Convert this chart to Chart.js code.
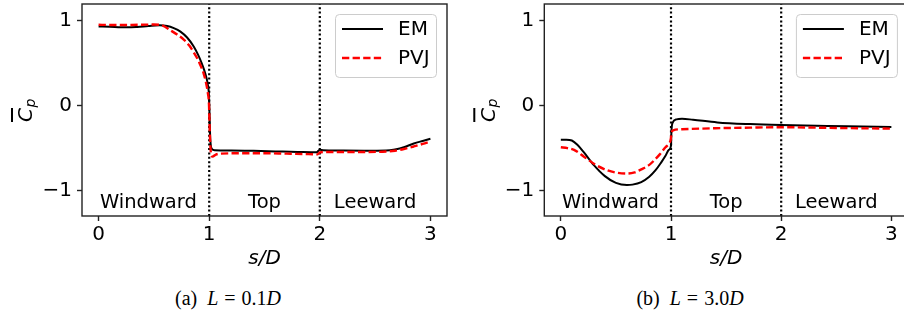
<!DOCTYPE html>
<html><head><meta charset="utf-8">
<script src="https://cdn.jsdelivr.net/npm/chart.js@4.4.1/dist/chart.umd.min.js"></script>
<style>
html,body{margin:0;padding:0;overflow:hidden;background:#fff;width:904px;height:322px;position:relative;}
canvas{position:absolute;top:0;}
#ca{left:0;}
#cb{left:452px;}
.cap{position:absolute;top:287px;font-family:'Liberation Serif','DejaVu Serif',serif;font-size:20px;white-space:nowrap;transform:translateX(-50%);color:#000;word-spacing:1px;}
</style></head><body>
<canvas id="ca" width="452" height="280"></canvas>
<canvas id="cb" width="460" height="280"></canvas>
<div class="cap" style="left:228px">(a)&ensp;<i>L</i> = 0.1<i>D</i></div>
<div class="cap" style="left:690px">(b)&ensp;<i>L</i> = 3.0<i>D</i></div>
<script>
// ---------- data ----------
const xTicks = [0, 1, 2, 3];
const yTicks = [-1, 0, 1];
const regionNames = ['Windward', 'Top', 'Leeward'];
const regionBounds = [1, 2];
const seriesNames = ['EM', 'PVJ'];

// (a) L = 0.1D
const emA_s  = [0, 0.1, 0.2, 0.26, 0.35, 0.45, 0.55, 0.62, 0.68, 0.74, 0.8, 0.86, 0.9, 0.93, 0.955, 0.975, 0.99, 0.998, 1.003, 1.01, 1.025, 1.05, 1.2, 1.4, 1.6, 1.8, 1.97, 2.0, 2.03, 2.2, 2.4, 2.6, 2.68, 2.76, 2.85, 2.93, 3.0];
const emA_cp = [0.935, 0.932, 0.926, 0.925, 0.93, 0.94, 0.948, 0.94, 0.915, 0.875, 0.805, 0.7, 0.6, 0.51, 0.42, 0.33, 0.23, 0.12, -0.1, -0.4, -0.51, -0.525, -0.528, -0.532, -0.538, -0.544, -0.548, -0.52, -0.524, -0.528, -0.53, -0.528, -0.515, -0.49, -0.445, -0.415, -0.39];
const pvjA_s  = [0, 0.1, 0.2, 0.3, 0.4, 0.5, 0.58, 0.65, 0.71, 0.77, 0.82, 0.86, 0.9, 0.92, 0.95, 0.97, 0.988, 0.998, 1.005, 1.015, 1.03, 1.06, 1.1, 1.3, 1.5, 1.7, 1.9, 1.98, 2.0, 2.05, 2.2, 2.4, 2.6, 2.68, 2.76, 2.85, 2.93, 3.0];
const pvjA_cp = [0.955, 0.953, 0.952, 0.953, 0.956, 0.958, 0.945, 0.89, 0.84, 0.78, 0.71, 0.63, 0.54, 0.48, 0.38, 0.28, 0.15, 0.02, -0.3, -0.55, -0.6, -0.575, -0.565, -0.56, -0.56, -0.565, -0.57, -0.573, -0.55, -0.545, -0.545, -0.545, -0.54, -0.53, -0.51, -0.48, -0.45, -0.42];

// (b) L = 3.0D
const emB_s  = [0, 0.05, 0.1, 0.15, 0.21, 0.3, 0.4, 0.5, 0.6, 0.65, 0.73, 0.8, 0.86, 0.91, 0.95, 0.98, 1.0, 1.004, 1.015, 1.05, 1.1, 1.2, 1.42, 1.72, 2.0, 2.32, 2.6, 3.0];
const emB_cp = [-0.40, -0.40, -0.41, -0.46, -0.55, -0.70, -0.83, -0.91, -0.935, -0.93, -0.90, -0.84, -0.76, -0.67, -0.59, -0.52, -0.47, -0.3, -0.2, -0.16, -0.153, -0.165, -0.196, -0.216, -0.227, -0.235, -0.242, -0.25];
const pvjB_s  = [0, 0.06, 0.12, 0.21, 0.32, 0.42, 0.51, 0.6, 0.67, 0.73, 0.8, 0.85, 0.9, 0.95, 0.985, 0.997, 1.005, 1.02, 1.1, 1.4, 1.72, 2.0, 2.4, 2.7, 3.0];
const pvjB_cp = [-0.49, -0.5, -0.52, -0.60, -0.70, -0.76, -0.79, -0.80, -0.785, -0.75, -0.70, -0.64, -0.57, -0.49, -0.44, -0.40, -0.32, -0.29, -0.277, -0.265, -0.258, -0.253, -0.26, -0.265, -0.27];

// ---------- drawing ----------
const FONT = "'DejaVu Sans', sans-serif";
const X_MIN = -0.15, X_MAX = 3.15, Y_MIN = -1.3, Y_MAX = 1.2;
const pairs = (xs, ys) => xs.map((x, i) => ({x, y: ys[i]}));

const overlay = {
  id: 'overlay',
  afterDatasetsDraw(chart) {
    const {ctx, chartArea: a, scales: {x, y}} = chart;
    ctx.save();
    // frame
    ctx.strokeStyle = '#222'; ctx.lineWidth = 1.4;
    ctx.strokeRect(a.left, a.top, a.right - a.left, a.bottom - a.top);
    // region labels
    ctx.fillStyle = '#000';
    ctx.font = '19.5px ' + FONT;
    ctx.textAlign = 'center'; ctx.textBaseline = 'alphabetic';
    const rx = [0.45, 1.5, 2.5];
    regionNames.forEach((n, i) => ctx.fillText(n, x.getPixelForValue(rx[i]), y.getPixelForValue(-1.2)));
    // y title: overline C subscript p
    const cx = a.left - 57, cy = (a.top + a.bottom) / 2;
    ctx.translate(cx, cy); ctx.rotate(-Math.PI / 2);
    ctx.textAlign = 'left';
    ctx.font = 'italic 20px ' + FONT;
    ctx.fillText('C', -12, 7.3);
    ctx.fillRect(-12, -14, 14, 2);
    ctx.font = 'italic 14px ' + FONT;
    ctx.fillText('p', 2.5, 9.5);
    ctx.restore();
    // legend
    ctx.save();
    const bw = 101, bh = 63, bx = a.right - 11 - bw, by = a.top + 10;
    ctx.beginPath();
    ctx.roundRect(bx + 0.5, by + 0.5, bw, bh, 4);
    ctx.fillStyle = 'rgba(255,255,255,0.8)'; ctx.fill();
    ctx.strokeStyle = '#cccccc'; ctx.lineWidth = 1; ctx.stroke();
    const rows = [by + 15, by + 44];
    chart.data.datasets.filter(d => d.label && seriesNames.includes(d.label))
      .sort((p, q) => seriesNames.indexOf(p.label) - seriesNames.indexOf(q.label))
      .forEach((d, i) => {
        ctx.beginPath();
        ctx.setLineDash(d.borderDash || []);
        ctx.strokeStyle = d.borderColor; ctx.lineWidth = d.borderWidth;
        ctx.moveTo(bx + 7, rows[i]); ctx.lineTo(bx + 48, rows[i]); ctx.stroke();
        ctx.setLineDash([]);
        ctx.fillStyle = '#000'; ctx.font = '20px ' + FONT;
        ctx.textAlign = 'left'; ctx.textBaseline = 'middle';
        ctx.fillText(d.label, bx + 63, rows[i] + 1);
      });
    ctx.restore();
  }
};

function makeChart(id, em, pvj, yAxisWidth, padRight) {
  const vlines = regionBounds.map(b => ({
    data: [{x: b, y: Y_MIN}, {x: b, y: Y_MAX}],
    borderColor: '#000', borderWidth: 2.2, borderDash: [2, 2.4],
    pointRadius: 0, fill: false
  }));
  return new Chart(document.getElementById(id), {
    type: 'line',
    data: {
      datasets: [
        {label: 'PVJ', data: pvj, borderColor: '#ff0000', borderWidth: 2.4, borderDash: [7.3, 3.3],
         pointRadius: 0, cubicInterpolationMode: 'monotone', fill: false},
        {label: 'EM', data: em, borderColor: '#000000', borderWidth: 2, pointRadius: 0,
         cubicInterpolationMode: 'monotone', fill: false},
        ...vlines
      ]
    },
    options: {
      responsive: false, animation: false, devicePixelRatio: 1,
      layout: {padding: {top: 4, left: 0, right: padRight, bottom: 0}},
      plugins: {legend: {display: false}, tooltip: {enabled: false}},
      scales: {
        x: {
          type: 'linear', min: X_MIN, max: X_MAX,
          afterBuildTicks: s => { s.ticks = xTicks.map(v => ({value: v})); },
          afterFit: s => { s.height = 64; s.paddingLeft = 0; s.paddingRight = 0; },
          ticks: {font: {family: FONT, size: 20}, color: '#000', padding: 2, maxRotation: 0,
                  callback: v => String(v)},
          grid: {drawOnChartArea: false, drawTicks: true, tickLength: 5, tickWidth: 1.4, tickColor: '#222'},
          border: {display: false},
          title: {display: true, text: 's/D', font: {family: FONT, size: 20, style: 'italic'},
                  color: '#000', padding: {top: 0, bottom: 9}}
        },
        y: {
          type: 'linear', min: Y_MIN, max: Y_MAX,
          afterBuildTicks: s => { s.ticks = yTicks.map(v => ({value: v})); },
          afterFit: s => { s.width = yAxisWidth; s.paddingTop = 0; s.paddingBottom = 0; },
          ticks: {font: {family: FONT, size: 20}, color: '#000', padding: 5,
                  callback: v => v < 0 ? '\u2212' + Math.abs(v) : String(v)},
          grid: {drawOnChartArea: false, drawTicks: true, tickLength: 5, tickWidth: 1.4, tickColor: '#222'},
          border: {display: false}
        }
      }
    },
    plugins: [overlay]
  });
}

makeChart('ca', pairs(emA_s, emA_cp), pairs(pvjA_s, pvjA_cp), 82, 5);
makeChart('cb', pairs(emB_s, emB_cp), pairs(pvjB_s, pvjB_cp), 92.3, 4.1);
</script>
</body></html>
